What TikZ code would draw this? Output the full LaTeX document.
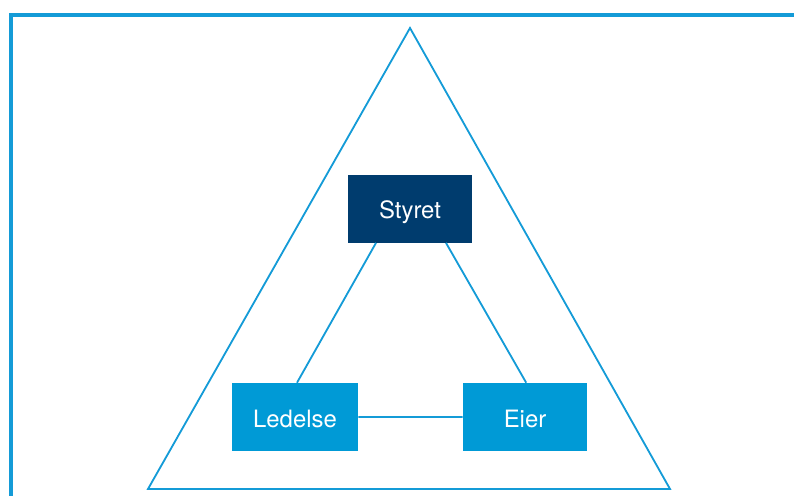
\documentclass[tikz,border=0pt]{standalone}
\usepackage{fontspec}
\setmainfont{TeX Gyre Heros}
\definecolor{lineblue}{RGB}{20,155,215}
\definecolor{boxblue}{RGB}{0,154,214}
\definecolor{boxnavy}{RGB}{0,60,110}
\tikzset{
  orgbox/.style={fill=boxblue, text=white, minimum width=3.1cm, minimum height=1.7cm,
    inner sep=0pt, text height=0.6cm, text depth=0.1cm, font=\fontsize{17}{20}\selectfont},
  link/.style={draw=lineblue, line width=1.3pt}
}
\begin{document}
\begin{tikzpicture}
\useasboundingbox (0,0) rectangle (19.85,12.375);
% frame
\draw [lineblue, line width=3pt] (0.275,-0.5) -- (0.275,12.0) -- (20.5,12.0);
% triangle
\coordinate (top) at (10.25,11.675);
\coordinate (bl) at (3.7,0.15);
\coordinate (br) at (16.75,0.15);
\draw [link, line join=miter] (top) -- (bl) -- (br) -- cycle;
% boxes
\node [orgbox, fill=boxnavy] (styret) at (10.25,7.16) {Styret};
\node [orgbox, minimum width=3.15cm] (ledelse) at (7.375,1.95) {Ledelse};
\node [orgbox] (eier) at (13.125,1.95) {Eier};
\draw [link] ([xshift=-0.85cm]styret.south) -- ([xshift=0.05cm]ledelse.north) % sides
  ([xshift=0.9cm]styret.south) -- ([xshift=0.03cm]eier.north)
  (ledelse) -- (eier);
\end{tikzpicture}
\end{document}
